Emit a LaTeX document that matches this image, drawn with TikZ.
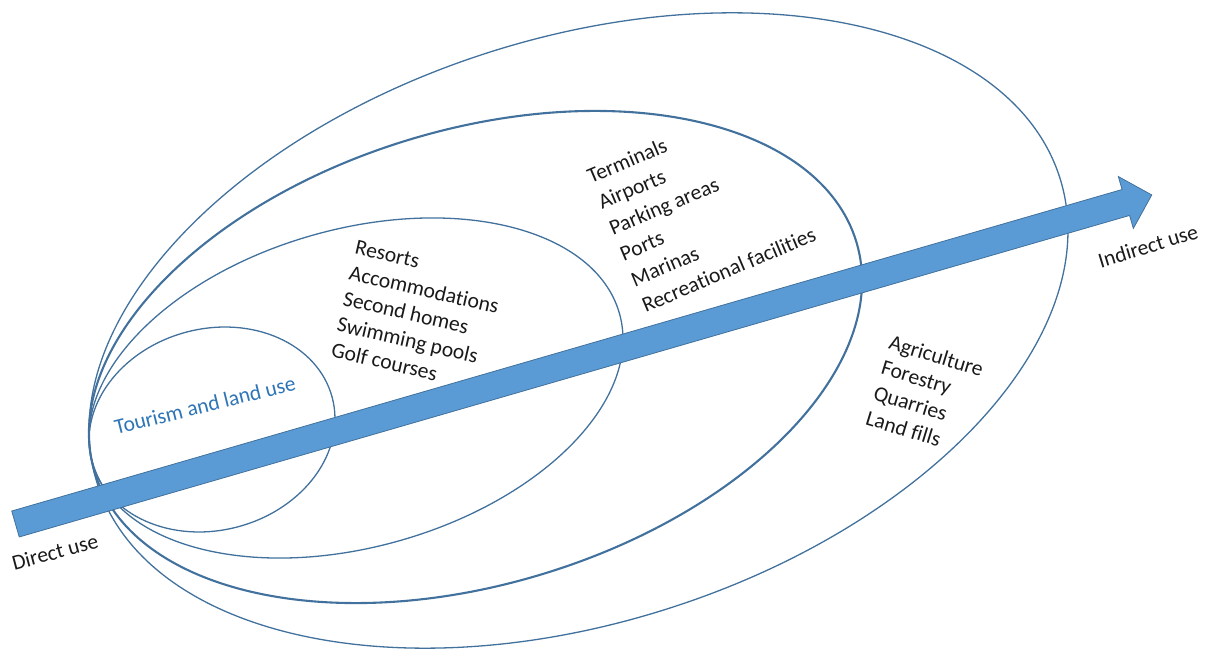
\documentclass[tikz,border=0pt]{standalone}
\usepackage{fontspec}
\setmainfont{Carlito}[RawFeature={-liga;-clig;-dlig}]
\definecolor{lineblue}{HTML}{41719C}
\definecolor{arrowfill}{HTML}{5B9BD5}
\definecolor{textblue}{HTML}{2E75B6}
\definecolor{txt}{HTML}{1A1A1A}
\begin{document}
\begin{tikzpicture}[x=1pt,y=1pt,
  ring/.style={draw=lineblue, line width=1.3pt},
  lbl/.style={font=\fontsize{21.6}{26.4}\selectfont, text=txt, inner sep=0pt, align=left},
  blockarrow/.style={fill=arrowfill, draw=lineblue, line width=0.8pt, line join=miter},
]
\useasboundingbox (0,0) rectangle (1208,649);
% nested rings
\draw[ring, rotate around={17.6:(578.5,318.5)}] (578.5,318.5) ellipse [x radius=505, y radius=292.2];
\draw[ring, line width=2.1pt, rotate around={16.8:(475.5,292)}] (475.5,292) ellipse [x radius=397.9, y radius=227.2];
\draw[ring, rotate around={15.8:(356,261)}] (356,261) ellipse [x radius=273.8, y radius=158.8];
\draw[ring, rotate around={15:(212,219.5)}] (212,219.5) ellipse [x radius=124.4, y radius=100.7];
% block arrow
\coordinate (tail) at (15.5,125);
\coordinate (tip) at (1152,454);
\begin{scope}[shift={(tail)}, rotate=16.15]
\filldraw[blockarrow] (0,13.5) -- (1156,13.5) -- (1156,27) -- (1183,0) -- (1156,-27) -- (1156,-13.5) -- (0,-13.5) -- cycle;
\end{scope}
% labels
\node[lbl, rotate=-13, anchor=north west] (resorts) at (357,409) {Resorts\\Accommodations\\Second homes\\Swimming pools\\Golf courses};
\node[lbl, font=\fontsize{21.6}{28}\selectfont, rotate=23, anchor=north west] (terminals) at (585,479) {Terminals\\Airports\\Parking areas\\Ports\\Marinas\\Recreational facilities};
\node[lbl, rotate=-17, anchor=north west] (agri) at (892,315) {Agriculture\\Forestry\\Quarries\\Land fills};
\node[lbl, text=textblue, rotate=14] (tourism) at (205,244) {Tourism and land use};
\node[lbl, rotate=15] (direct) at (55,97) {Direct use};
\node[lbl, rotate=17] (indirect) at (1148,403) {Indirect use};
\end{tikzpicture}
\end{document}
